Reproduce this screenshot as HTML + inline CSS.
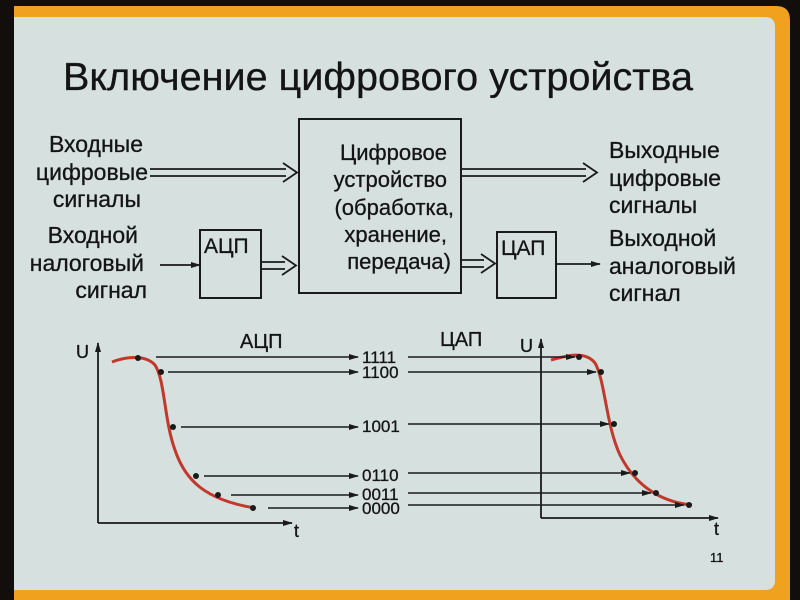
<!DOCTYPE html>
<html><head><meta charset="utf-8"><style>
html,body{margin:0;padding:0;background:#120e0b;}
svg{display:block;}
text{font-family:"Liberation Sans",sans-serif;fill:#141414;stroke:#141414;stroke-width:0.3;}
</style></head><body>
<svg width="800" height="600" viewBox="0 0 800 600" xmlns="http://www.w3.org/2000/svg">
<defs>
<marker id="a" markerWidth="10" markerHeight="8" refX="9" refY="4" orient="auto" markerUnits="userSpaceOnUse"><path d="M0,1 L10,4 L0,7 Z" fill="#1a1a1a"/></marker>
</defs>
<rect x="0" y="0" width="800" height="600" fill="#120e0b"/>
<path d="M14,6 H776 Q790,6 790,20 V600 H14 Z" fill="#f0a21e"/>
<path d="M14,17 H765 Q775,17 775,27 V580 Q775,590 765,590 H14 Z" fill="#d6e0de"/>

<text x="63" y="90" font-size="39" textLength="630" lengthAdjust="spacingAndGlyphs">Включение цифрового устройства</text>

<g font-size="23" text-anchor="end">
<text x="143" y="152">Входные</text>
<text x="148" y="180">цифровые</text>
<text x="141" y="207">сигналы</text>
<text x="138" y="243">Входной</text>
<text x="144" y="271">налоговый</text>
<text x="147" y="298">сигнал</text>
</g>
<g font-size="23">
<text x="609" y="158">Выходные</text>
<text x="609" y="186">цифровые</text>
<text x="609" y="213">сигналы</text>
<text x="609" y="246">Выходной</text>
<text x="609" y="274">аналоговый</text>
<text x="609" y="301">сигнал</text>
</g>

<g fill="none" stroke="#1a1a1a" stroke-width="2">
<rect x="299" y="119" width="162" height="174"/>
<rect x="200" y="230" width="61" height="68"/>
<rect x="497" y="232" width="59" height="66"/>
</g>
<g font-size="22" text-anchor="end">
<text x="447" y="160">Цифровое</text>
<text x="447" y="187">устройство</text>
<text x="454" y="215">(обработка,</text>
<text x="447" y="242">хранение,</text>
<text x="451" y="269">передача)</text>
</g>
<text x="204" y="253" font-size="21">АЦП</text>
<text x="501" y="255" font-size="21">ЦАП</text>

<g fill="none" stroke="#1a1a1a" stroke-width="1.8">
<path d="M150,169 H286 M150,176 H286 M283,163 L297,172.5 L283,182"/>
<path d="M462,169 H586 M462,176 H586 M583,163 L597,172.5 L583,182"/>
<path d="M261,262 H285 M261,269 H285 M282,256 L296,265.5 L282,275"/>
<path d="M462,260 H484 M462,267 H484 M481,254 L495,263.5 L481,273"/>
</g>
<g stroke="#1a1a1a" stroke-width="1.8">
<line x1="160" y1="265" x2="200" y2="265" marker-end="url(#a)"/>
<line x1="556" y1="264" x2="600" y2="264" marker-end="url(#a)"/>
</g>

<g stroke="#1a1a1a" stroke-width="1.8" fill="none">
<line x1="98" y1="523" x2="98" y2="343" marker-end="url(#a)"/>
<line x1="98" y1="523" x2="292" y2="523" marker-end="url(#a)"/>
<line x1="541" y1="518" x2="541" y2="339" marker-end="url(#a)"/>
<line x1="541" y1="518" x2="718" y2="518" marker-end="url(#a)"/>
</g>
<text x="76" y="358" font-size="18">U</text>
<text x="294" y="537" font-size="18">t</text>
<text x="520" y="352" font-size="18">U</text>
<text x="714" y="535" font-size="18">t</text>
<text x="240" y="348" font-size="20">АЦП</text>
<text x="440" y="346" font-size="20">ЦАП</text>
<text x="710" y="562" font-size="13">11</text>

<path d="M112,362 C125,357 145,354 155,365 C165,380 164,420 175,450 C185,480 205,500 255,508" stroke="#c0392b" stroke-width="3" fill="none"/>
<path d="M551,360 C565,356 585,350 595,363 C605,380 606,425 620,455 C635,485 660,502 692,505" stroke="#c0392b" stroke-width="3" fill="none"/>

<g fill="#1a1a1a">
<circle cx="138" cy="358" r="3"/><circle cx="161" cy="372" r="3"/><circle cx="173" cy="427" r="3"/>
<circle cx="196" cy="476" r="3"/><circle cx="218" cy="495" r="3"/><circle cx="253" cy="508" r="3"/>
<circle cx="579" cy="357" r="3"/><circle cx="601" cy="372" r="3"/><circle cx="614" cy="424" r="3"/>
<circle cx="635" cy="473" r="3"/><circle cx="656" cy="493" r="3"/><circle cx="689" cy="505" r="3"/>
</g>

<g stroke="#1a1a1a" stroke-width="1.6">
<line x1="156" y1="357" x2="358" y2="357" marker-end="url(#a)"/>
<line x1="168" y1="372" x2="358" y2="372" marker-end="url(#a)"/>
<line x1="181" y1="427" x2="358" y2="427" marker-end="url(#a)"/>
<line x1="204" y1="476" x2="358" y2="476" marker-end="url(#a)"/>
<line x1="231" y1="495" x2="358" y2="495" marker-end="url(#a)"/>
<line x1="268" y1="508" x2="358" y2="508" marker-end="url(#a)"/>
<line x1="408" y1="357" x2="575" y2="357" marker-end="url(#a)"/>
<line x1="408" y1="372" x2="596" y2="372" marker-end="url(#a)"/>
<line x1="408" y1="424" x2="609" y2="424" marker-end="url(#a)"/>
<line x1="408" y1="473" x2="630" y2="473" marker-end="url(#a)"/>
<line x1="408" y1="493" x2="651" y2="493" marker-end="url(#a)"/>
<line x1="408" y1="505" x2="684" y2="505" marker-end="url(#a)"/>
</g>
<g font-size="17">
<text x="362" y="363">1111</text>
<text x="362" y="378">1100</text>
<text x="362" y="432">1001</text>
<text x="362" y="481">0110</text>
<text x="362" y="500">0011</text>
<text x="362" y="514">0000</text>
</g>
</svg>
</body></html>
